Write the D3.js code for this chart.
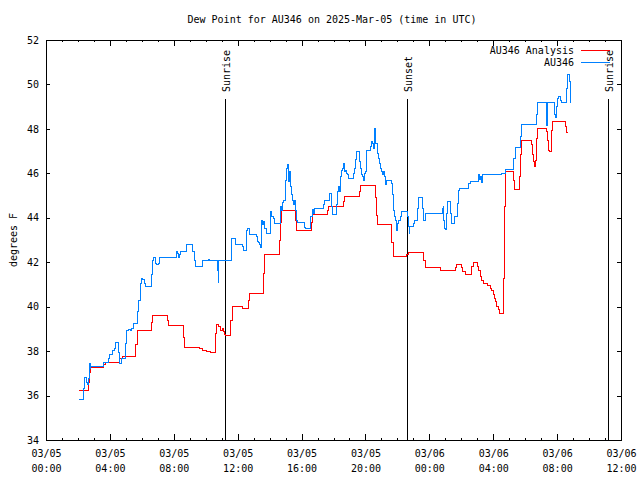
<!DOCTYPE html>
<html><head><meta charset="utf-8">
<script src="https://cdn.jsdelivr.net/npm/d3@7"></script>
<style>
body{margin:0;background:#fff}
svg text{font-family:"DejaVu Sans Mono","Liberation Mono",monospace;font-size:10px;fill:#000}
</style>
</head><body><svg id="chart" width="640" height="480"></svg>
<script>
const title = "Dew Point for AU346 on 2025-Mar-05 (time in UTC)";
const yLabel = "degrees F";
const seriesNames = ["AU346 Analysis", "AU346"];
const seriesColors = ["#ff0000", "#0080ff"];
const startUTC = Date.UTC(2025, 2, 5, 0, 0);
const spanHours = 36;
const yTicks = [34, 36, 38, 40, 42, 44, 46, 48, 50, 52];

// hours since 2025-03-05 00:00 UTC
const analysisHours = [2.09,2.65,2.71,2.80,3.59,3.70,4.63,4.78,5.61,5.70,6.62,6.68,7.60,7.68,8.60,8.66,9.64,9.80,10.06,10.33,10.60,10.67,10.81,10.95,11.02,11.10,11.15,11.23,11.58,11.65,12.31,12.65,12.73,13.61,13.71,14.61,14.70,14.76,15.61,15.70,16.64,16.70,17.62,17.70,18.64,18.70,19.62,19.68,20.60,20.71,20.77,21.65,21.73,22.60,22.70,23.63,23.75,24.67,24.73,25.61,25.72,25.82,25.99,26.07,26.24,26.61,26.67,26.76,27.01,27.07,27.18,27.28,27.39,27.64,27.80,27.91,28.01,28.07,28.16,28.22,28.30,28.37,28.64,28.70,28.76,29.26,29.32,29.62,29.70,29.76,30.37,30.45,30.51,30.58,30.64,30.70,30.76,31.34,31.40,31.48,31.55,31.63,31.67,31.74,32.53,32.57,32.66];
const analysisValues = [36.25,36.6,37.05,37.27,37.38,37.5,37.65,37.78,38.3,38.95,39.3,39.61,39.4,39.16,38.6,38.17,38.12,38.05,37.97,37.93,38.8,39.22,39.1,38.95,39.03,38.87,38.75,38.7,39.4,39.99,39.92,40.3,40.6,41.5,42.33,43.0,43.8,44.35,43.9,43.45,43.8,44.16,44.35,44.53,44.75,44.98,45.2,45.46,44.9,44.1,43.71,42.9,42.28,42.35,42.45,42.1,41.77,41.7,41.65,41.75,41.88,41.92,41.75,41.58,41.46,41.65,41.8,42.0,41.8,41.61,41.35,41.2,41.05,40.95,40.83,40.75,40.53,40.38,40.23,40.03,39.88,39.7,41.28,44.5,46.07,45.7,45.28,45.85,46.87,47.46,47.32,46.83,46.52,46.3,46.6,47.55,48.03,47.88,47.5,47.05,46.98,47.35,47.95,48.34,48.1,47.83,47.8];

const obsHours = [2.07,2.34,2.40,2.55,2.61,2.65,2.71,2.76,2.80,3.59,3.63,3.90,3.97,4.17,4.26,4.38,4.57,4.63,4.70,4.74,4.99,5.05,5.16,5.26,5.36,5.47,5.74,5.82,5.89,5.93,5.99,6.05,6.14,6.20,6.62,6.68,6.76,6.83,6.89,7.03,7.10,8.14,8.22,8.29,8.35,8.39,8.81,9.18,9.27,9.33,9.81,10.16,10.23,10.75,10.79,10.83,11.63,11.88,11.98,12.31,12.38,12.44,12.52,12.57,12.63,12.73,12.77,13.15,13.23,13.30,13.36,13.42,13.50,13.57,13.61,13.67,13.71,13.78,14.03,14.09,14.15,14.23,14.30,14.69,14.76,14.82,14.88,14.94,15.01,15.07,15.13,15.17,15.24,15.32,15.38,15.45,15.51,15.57,15.63,15.68,15.74,16.16,16.22,16.59,16.66,16.74,16.80,17.37,17.43,17.70,17.76,17.89,17.95,18.16,18.22,18.26,18.33,18.39,18.45,18.51,18.58,18.64,18.70,18.76,18.83,18.89,18.95,19.24,19.31,19.37,19.43,19.62,19.68,19.75,19.81,19.87,19.93,20.00,20.04,20.31,20.37,20.43,20.50,20.54,20.60,20.66,20.75,20.81,20.87,20.93,21.00,21.06,21.12,21.19,21.25,21.31,21.65,21.71,21.77,21.83,21.90,21.96,22.02,22.08,22.17,22.27,22.62,22.69,22.73,22.77,23.00,23.06,23.29,23.33,23.59,23.63,23.77,24.82,24.88,24.90,24.96,25.03,25.09,25.15,25.30,25.36,25.59,25.72,25.78,25.84,25.88,26.47,26.55,27.07,27.13,27.20,27.26,27.30,28.22,28.43,28.49,28.74,29.30,29.37,29.68,29.74,30.27,30.47,30.68,30.75,31.31,31.35,31.39,31.41,31.85,31.89,31.98,32.04,32.10,32.19,32.27,32.58,32.62,32.77,32.81,32.85];
const obsValues = [35.83,36.33,36.82,36.58,36.52,36.78,37.45,37.23,37.3,37.33,37.5,37.68,37.83,38.05,38.13,38.4,37.95,37.45,37.57,37.68,38.35,38.95,38.98,38.92,39.03,39.25,39.78,40.27,40.6,41.05,41.27,41.23,41.05,40.93,41.43,42.1,42.2,41.95,41.9,41.95,42.2,42.48,42.4,42.22,42.37,42.48,42.78,42.48,42.07,41.8,42.07,42.13,42.1,41.65,41.08,42.1,43.08,42.81,42.78,42.7,42.51,42.55,42.52,43.45,43.5,43.45,43.23,43.15,42.93,42.88,42.78,42.67,43.9,43.68,43.83,43.6,43.52,43.3,44.27,44.05,44.08,43.98,43.75,44.5,44.35,44.68,44.77,44.8,45.7,46.23,46.42,45.63,46.08,45.4,45.03,44.8,44.58,44.8,44.35,43.9,43.8,43.57,43.52,44.05,44.38,44.2,44.42,44.58,44.77,44.8,45.1,44.5,44.13,44.58,44.8,45.18,45.4,45.18,45.85,46.15,46.23,46.45,46.08,46.15,46.0,45.93,45.75,46.0,46.23,46.63,46.97,46.53,46.23,45.93,45.85,45.7,46.0,46.08,47.05,47.2,47.43,47.35,47.13,48.03,47.5,47.35,46.9,46.68,46.45,46.23,46.08,45.93,46.08,45.85,45.48,45.7,45.55,45.03,44.35,44.05,43.9,43.45,43.75,43.9,44.05,44.27,44.05,43.6,43.3,43.63,43.75,43.87,44.43,44.91,44.43,43.9,44.2,44.43,44.5,43.9,43.53,43.48,44.2,44.73,44.2,43.75,44.05,44.08,44.65,45.25,45.33,45.55,45.63,45.93,45.73,45.85,45.58,45.93,45.97,45.93,46.0,46.18,46.68,47.17,47.65,48.18,48.22,48.18,48.63,49.2,48.63,48.15,48.63,49.2,48.63,48.52,49.0,49.35,49.48,49.3,49.2,49.83,50.46,50.13,49.6,49.18];

const eventNames = ["Sunrise", "Sunset", "Sunrise"];
const eventHours = [11.23, 22.59, 35.21];

const toDate = h => new Date(startUTC + h * 3600e3);
const W = 640, H = 480;
const L = 46, R = 621, T = 40, B = 440;

const svg = d3.select("#chart");
svg.append("rect").attr("width", W).attr("height", H).attr("fill", "#fff");

const x = d3.scaleUtc().domain([toDate(0), toDate(spanHours)]).range([L, R]);
const y = d3.scaleLinear().domain([yTicks[0], yTicks[yTicks.length - 1]]).range([B, T]);

function clean(g) { g.select(".domain").remove(); g.selectAll("line").attr("stroke", "#000").attr("shape-rendering", "crispEdges"); }

// minor hourly ticks bottom/top
svg.append("g").attr("transform", `translate(0,${B})`)
  .call(d3.axisBottom(x).ticks(d3.utcHour.every(1)).tickSize(-2).tickFormat("")).call(clean);
svg.append("g").attr("transform", `translate(0,${T})`)
  .call(d3.axisTop(x).ticks(d3.utcHour.every(1)).tickSize(-2).tickFormat("")).call(clean);
// major 4h ticks
const fmtD = d3.utcFormat("%m/%d"), fmtT = d3.utcFormat("%H:%M");
const gx = svg.append("g").attr("transform", `translate(0,${B})`)
  .call(d3.axisBottom(x).ticks(d3.utcHour.every(4)).tickSize(-6).tickPadding(10).tickFormat(d => "")).call(clean);
gx.selectAll(".tick text").each(function(d) {
  const t = d3.select(this).attr("y", null).attr("dy", null).attr("fill", "#000");
  t.append("tspan").attr("x", 0).attr("y", 16.5).text(fmtD(d));
  t.append("tspan").attr("x", 0).attr("y", 31.5).text(fmtT(d));
});
svg.append("g").attr("transform", `translate(0,${T})`)
  .call(d3.axisTop(x).ticks(d3.utcHour.every(4)).tickSize(-6).tickFormat("")).call(clean);

// y axes
const gy = svg.append("g").attr("transform", `translate(${L},0)`)
  .call(d3.axisLeft(y).tickValues(yTicks).tickSize(-4).tickPadding(7).tickFormat(d3.format("d"))).call(clean);
gy.selectAll(".tick text").attr("fill", "#000");
gx.attr("font-size", null).attr("font-family", null);
gy.attr("font-size", null).attr("font-family", null);
svg.append("g").attr("transform", `translate(${R},0)`)
  .call(d3.axisRight(y).tickValues(yTicks).tickSize(-4).tickFormat("")).call(clean);

// frame
svg.append("rect").attr("x", L + 0.5).attr("y", T + 0.5).attr("width", R - L).attr("height", B - T)
  .attr("fill", "none").attr("stroke", "#000").attr("shape-rendering", "crispEdges");

// title and y label
svg.append("text").attr("x", 332).attr("y", 22.5).attr("text-anchor", "middle").text(title);
svg.append("text").attr("transform", `translate(13,240) rotate(-90)`).attr("text-anchor", "middle")
  .attr("dominant-baseline", "central").text(yLabel);

// sunrise/sunset markers
eventHours.forEach((h, i) => {
  const ex = Math.round(x(toDate(h))) + 0.5;
  svg.append("line").attr("x1", ex).attr("x2", ex).attr("y1", T + 59).attr("y2", B)
    .attr("stroke", "#000").attr("shape-rendering", "crispEdges");
  svg.append("text").attr("transform", `translate(${ex + 1},${T + 52}) rotate(-90)`)
    .attr("text-anchor", "start").attr("dominant-baseline", "central").text(eventNames[i]);
});

// series
const line = d3.line().x(d => x(toDate(d[0]))).y(d => y(d[1])).curve(d3.curveStepAfter);
const series = [d3.zip(analysisHours, analysisValues), d3.zip(obsHours, obsValues)];
series.forEach((s, i) => {
  svg.append("path").datum(s).attr("d", line).attr("fill", "none")
    .attr("stroke", seriesColors[i]).attr("stroke-width", 1).attr("shape-rendering", "crispEdges");
});

// legend
seriesNames.forEach((n, i) => {
  const ly = 50 + i * 12;
  svg.append("text").attr("x", 574).attr("y", ly + 3.5).attr("text-anchor", "end").text(n);
  svg.append("line").attr("x1", 581).attr("x2", 610).attr("y1", ly + 0.5).attr("y2", ly + 0.5)
    .attr("stroke", seriesColors[i]).attr("shape-rendering", "crispEdges");
});
</script>
</body></html>
